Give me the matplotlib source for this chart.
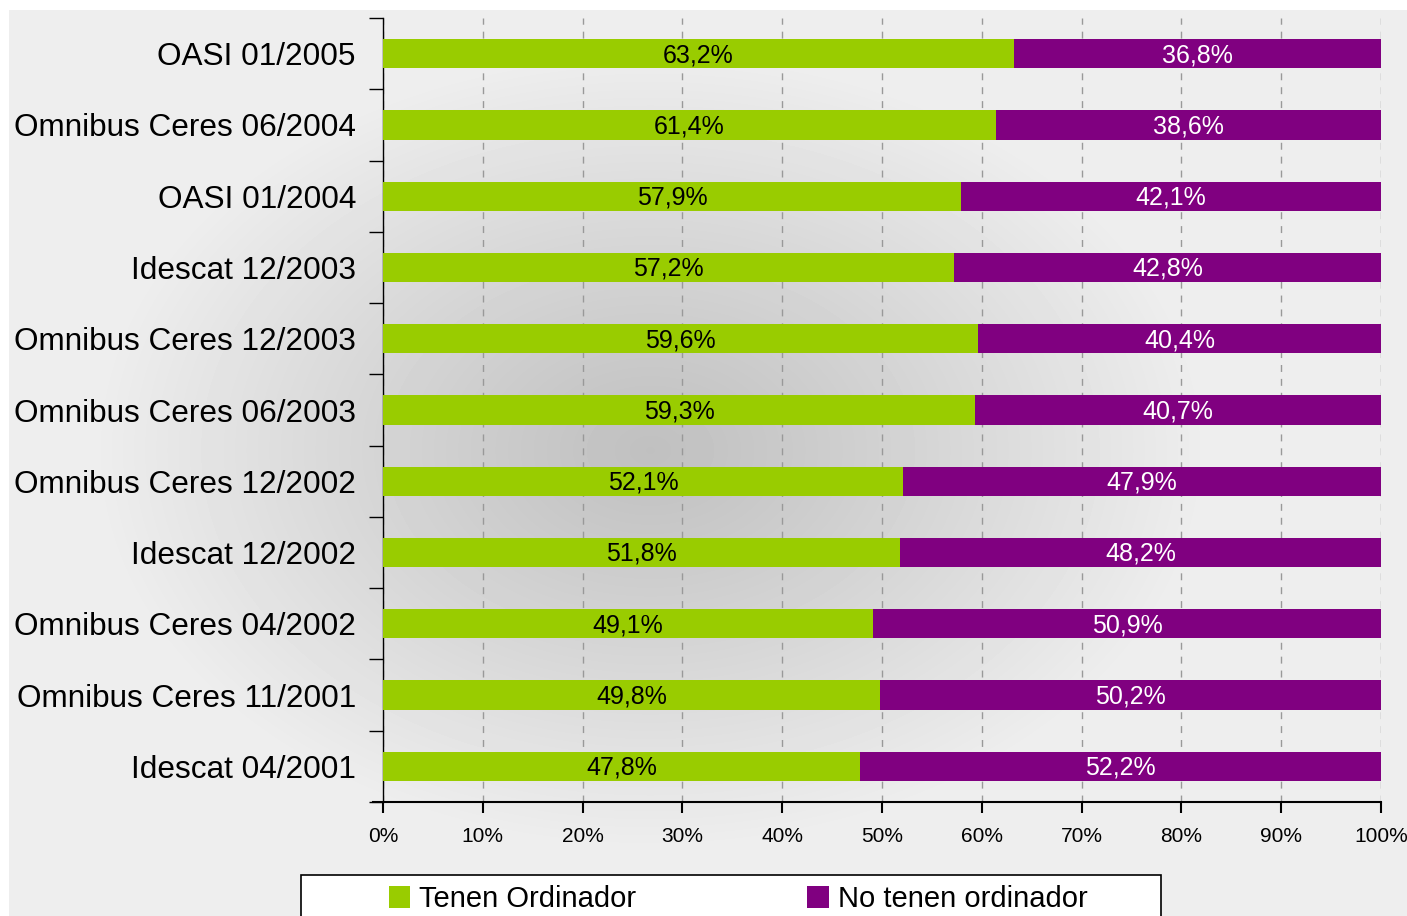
import numpy as np
import matplotlib
from matplotlib import pyplot as plt
from matplotlib.patches import Rectangle, Patch
plt.switch_backend('agg')

plt.rcParams['font.family'] = ['Liberation Sans', 'DejaVu Sans']

encuestas = ['OASI 01/2005', 'Omnibus Ceres 06/2004', 'OASI 01/2004',
             'Idescat 12/2003', 'Omnibus Ceres 12/2003', 'Omnibus Ceres 06/2003',
             'Omnibus Ceres 12/2002', 'Idescat 12/2002', 'Omnibus Ceres 04/2002',
             'Omnibus Ceres 11/2001', 'Idescat 04/2001']
tenen = [63.2, 61.4, 57.9, 57.2, 59.6, 59.3, 52.1, 51.8, 49.1, 49.8, 47.8]
no_tenen = [36.8, 38.6, 42.1, 42.8, 40.4, 40.7, 47.9, 48.2, 50.9, 50.2, 52.2]
series_names = ['Tenen Ordinador', 'No tenen ordinador']
x_ticks = [0, 10, 20, 30, 40, 50, 60, 70, 80, 90, 100]

verd = '#99CC00'
lila = '#800080'

W, H = 1407, 916
fig = plt.figure(figsize=(W / 100, H / 100), dpi=100)
fig.patch.set_facecolor('white')

# radial grey background
bg = fig.add_axes([9 / W, 0, 1 - 9 / W, (H - 10) / H])
bg.set_axis_off()
yy, xx = np.mgrid[10:H, 9:W]
r = np.sqrt(((xx - 650) / 560.0) ** 2 + ((yy - 450) / 400.0) ** 2)
val = 192 + 46 * np.clip(r, 0, 1) ** 1.1
bg.imshow(val, cmap='gray', vmin=0, vmax=255, aspect='auto',
          extent=[0, 1, 0, 1], interpolation='bilinear')
bg.set_xlim(0, 1)
bg.set_ylim(0, 1)

ax = fig.add_axes([383 / W, 1 - 802 / H, (1381 - 383) / W, (802 - 18) / H])
ax.patch.set_alpha(0)

pos = np.arange(len(encuestas))
h = 0.41
b1 = ax.barh(pos, tenen, height=h, color=verd, zorder=3)
b2 = ax.barh(pos, no_tenen, left=tenen, height=h, color=lila, zorder=3)

fmt = lambda v: f'{v:.1f}%'.replace('.', ',')
for i in range(len(encuestas)):
    ax.text(tenen[i] / 2, pos[i] + 0.02, fmt(tenen[i]), ha='center', va='center',
            fontsize=18, color='black', zorder=4)
    ax.text(tenen[i] + no_tenen[i] / 2, pos[i] + 0.02, fmt(no_tenen[i]), ha='center',
            va='center', fontsize=18, color='white', zorder=4)

ax.set_xlim(0, 100)
ax.set_ylim(len(encuestas) - 0.5, -0.5)

ax.set_xticks(x_ticks)
ax.set_xticklabels([f'{t}%' for t in x_ticks], fontsize=15)
ax.set_yticks(pos)
ax.set_yticklabels(encuestas, fontsize=22.7)
ax.set_yticks(np.arange(len(encuestas) + 1) - 0.5, minor=True)
ax.tick_params(axis='y', which='major', length=0, pad=19.5)
ax.tick_params(axis='y', which='minor', length=10, width=1, direction='out')
ax.tick_params(axis='x', which='major', length=8, width=1.5, direction='out', pad=10)

for s in ['top', 'right']:
    ax.spines[s].set_visible(False)
ax.spines['left'].set_linewidth(1)
ax.spines['bottom'].set_linewidth(1.5)
ax.spines['bottom'].set_bounds(-1, 100)
ax.spines['bottom'].set_clip_on(False)

ax.grid(axis='x', color='#999999', linestyle=(0, (5, 5)), linewidth=1, zorder=1)
ax.set_axisbelow(True)

# legend box, cut at the bottom edge
fig.patches.append(Rectangle((301 / W, -0.05), (1161 - 301) / W, 0.05 + (916 - 875) / H,
                             transform=fig.transFigure, facecolor='white',
                             edgecolor='black', linewidth=1.2, zorder=5))
handles = [Patch(facecolor=verd, edgecolor='none'), Patch(facecolor=lila, edgecolor='none')]
fig.legend(handles, series_names, ncol=2, frameon=False, fontsize=21,
           loc='center left', bbox_to_anchor=(374 / W, 1 - 899 / H),
           handlelength=0.75, handleheight=0.75, handletextpad=0.3,
           columnspacing=5.85, borderpad=0)

fig.savefig('out.png', dpi=100)
